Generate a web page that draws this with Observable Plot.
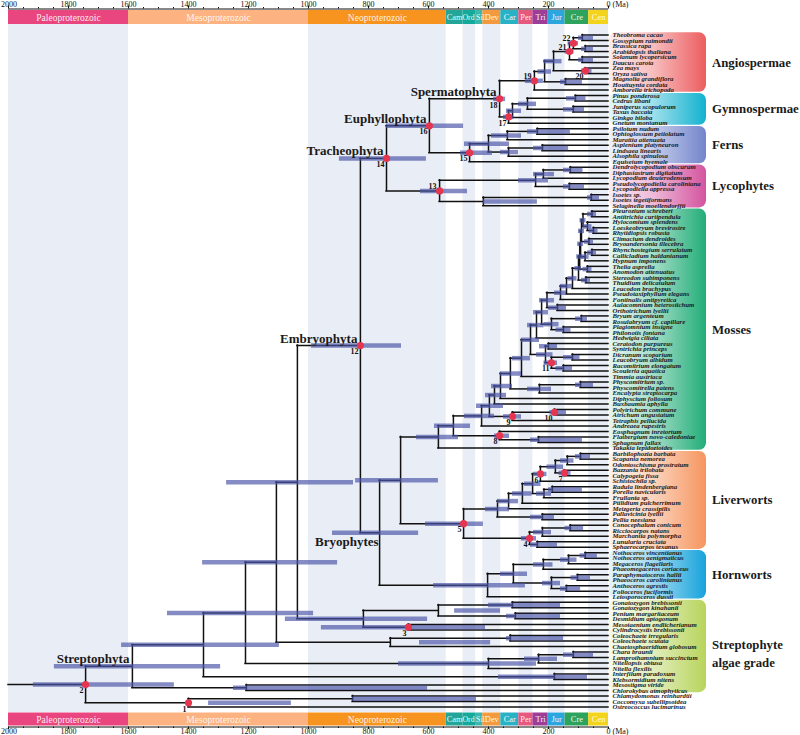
<!DOCTYPE html>
<html><head><meta charset="utf-8">
<script src="https://cdn.jsdelivr.net/npm/d3@7"></script>
<script src="https://cdn.jsdelivr.net/npm/@observablehq/plot@0.6"></script>
<style>
body{margin:0;background:#fff;width:800px;height:735px;overflow:hidden;font-family:"Liberation Serif",serif;}
#chart svg{display:block;}
</style></head><body><div id="chart"></div>
<script>
// ---------------- data ----------------
const tipNames = [
"Theobroma cacao","Gossypium raimondii","Brassica rapa","Arabidopsis thaliana","Solanum lycopersicum","Daucus carota","Zea mays","Oryza sativa","Magnolia grandiflora","Houttuynia cordata","Amborella trichopoda",
"Pinus ponderosa","Cedrus libani","Juniperus scopulorum","Taxus baccata","Ginkgo biloba","Gnetum montanum",
"Psilotum nudum","Ophioglossum petiolatum","Marattia attenuata","Asplenium platyneuron","Lindsaea linearis","Alsophila spinulosa","Equisetum hyemale",
"Dendrolycopodium obscurum","Diphasiastrum digitatum","Lycopodium deuterodensum","Pseudolycopodiella caroliniana","Lycopodiella appressa","Isoetes sp.","Isoetes tegetiformans","Selaginella moellendorffii",
"Pleurozium schreberi","Antitrichia curtipendula","Hylocomium splendens","Loeskeobryum brevirostre","Rhytidiopsis robusta","Climacium dendroides","Bryoandersonia illecebra","Rhynchostegium serrulatum","Callicladium haldanianum","Hypnum imponens","Thelia asprella","Anomodon attenuatus","Stereodon subimponens","Thuidium delicatulum","Leucodon brachypus","Pseudotaxiphyllum elegans","Fontinalis antipyretica","Aulacomnium heterostichum","Orthotrichum lyellii","Bryum argenteum","Rosulabryum cf. capillare","Plagiomnium insigne","Philonotis fontana","Hedwigia ciliata","Ceratodon purpureus","Syntrichia princeps","Dicranum scoparium","Leucobryum albidum","Racomitrium elongatum","Scouleria aquatica","Timmia austriaca","Physcomitrium sp.","Physcomitrella patens","Encalypta streptocarpa","Diphyscium foliosum","Buxbaumia aphylla","Polytrichum commune","Atrichum angustatum","Tetraphis pellucida","Andreaea rupestris","Eosphagnum inretortum","Flatbergium novo-caledoniae","Sphagnum fallax","Takakia lepidozioides",
"Barbilophozia barbata","Scapania nemorea","Odontoschisma prostratum","Bazzania trilobata","Calypogeia fissa","Schistochila sp.","Radula lindenbergiana","Porella navicularis","Frullania sp.","Ptilidium pulcherrimum","Metzgeria crassipilis","Pallavicinia lyellii","Pellia neesiana","Conocephalum conicum","Ricciocarpos natans","Marchantia polymorpha","Lunularia cruciata","Sphaerocarpos texanus",
"Nothoceros vincentianus","Nothoceros aenigmaticus","Megaceros flagellaris","Phaeomegaceros coriaceus","Paraphymatoceros hallii","Phaeoceros carolinianus","Anthoceros agrestis","Folioceros fuciformis","Leiosporoceros dussii",
"Gonatozygon brebissonii","Gonatozygon kinahanii","Penium margaritaceum","Desmidium aptogonum","Mesotaenium endlicherianum","Cylindrocystis brebissonii","Coleochaete irregularis","Coleochaete scutata","Chaetosphaeridium globosum","Chara braunii","Lamprothamnium succinctum","Nitellopsis obtusa","Nitella flexilis","Interfilum paradoxum","Klebsormidium nitens","Mesostigma viride","Chlorokybus atmophyticus",
"Chlamydomonas reinhardtii","Coccomyxa subellipsoidea","Ostreococcus lucimarinus"];

// geological periods (Ma)
const periodNames  = ["Paleoproterozoic","Mesoproterozoic","Neoproterozoic","Cam","Ord","Sil","Dev","Car","Per","Tri","Jur","Cre","Cen"];
const periodStart  = [2000,1600,1000,541,485,443,419,359,299,252,201,145,66];
const periodEnd    = [1600,1000,541,485,443,419,359,299,252,201,145,66,0];
const periodColors = ["#e9467f","#fcb381","#f7931f","#23a597","#14a99b","#3cb7ab","#f39a3e","#29b2c6","#e6587e","#9d3d97","#2ba6df","#2ea35d","#f4d31c"];
const periodShaded = [1,0,1,0,1,0,1,0,1,0,1,0,1];
const majorTicks = [2000,1800,1600,1400,1200,1000,800,600,400,200,0];

// right-hand groups (tip index ranges)
const groupNames  = ["Angiospermae","Gymnospermae","Ferns","Lycophytes","Mosses","Liverworts","Hornworts","Streptophyte|algae grade"];
const groupFirst  = [0,11,17,24,32,76,94,103];
const groupLast   = [10,16,23,31,75,93,102,119];
const groupColors = ["#ec5d5f","#12b2cf","#7385cc","#d4549f","#22ad78","#f6955e","#17a3dc","#b8d45c"];

// tree: (children)age/olderHPD/youngerHPD[#calibration][^ label above][$clade]
const angio = "((((((0,1)87/100/50,(2,3)77/90/50)117/135/100#22^,(4,5)87/100/50)130/145/115#21^,(6,7)77/90/55#20)183/215/155,(8,9)143/160/87)213/235/190,10)247/277/217#19^";
const gymno = "((((11,12)110/140/75,(13,14)117/150/80)270/300/240,15)320/340/290,16)333/350/315#17";
const ferns = "((((17,18)237/270/127,19)337/390/290,((20,21)220/250/133,22)333/360/300)400/480/330,23)463/493/387#15";
const lyco  = "((((24,25)127/150/85,26)217/250/180,(27,28)130/150/80)243/300/200,((29,30)57/70/30,31)417/417/237)563/627/470#13^";
const pleuro = "((32,33)55/70/40,(34,(35,36)50/65/35)70/85/55)85/95/75";
const hypnales = `(((((((${pleuro},(37,38)65/80/50)90/100/80,((39,40)55/70/40,41)78/90/65)93/103/83,(42,43)70/85/55)96/106/86,(44,45)75/90/60)100/112/90,46)120/135/105,47)140/160/120,48)160/180/140`;
const bryidae = `(((${hypnales},(49,50)170/200/140)205/230/180,((51,52)90/110/70,(53,54)150/175/125)190/215/165)223/250/200,55)240/270/215`;
const dicranidae = "((56,57)200/230/170,((58,59)120/150/95,(60,61)150/175/120)190/215/170#11)210/240/185";
const bryopsida = `(((${bryidae},${dicranidae})260/290/230,62)290/320/260,((63,64)93/110/50,65)230/270/190)327/360/290`;
const mosses = `((((((${bryopsida},66)360/390/320,67)380/410/340,((68,69)180/195/140#10,70)320/350/290#9)397/440/350,71)423/480/380,(72,(73,74)233/260/87)363/380/330#8)517/580/460,75)567/640/500`;
const jungermann = "((((((((76,77)93/110/60,78)137/160/115,(79,80)147/165/125#7)177/205/150,81)227/250/205#6,((82,83)187/200/87,84)215/240/190)253/280/225,85)287/320/255,86)333/370/300,(87,88)220/260/180)370/410/330";
const marchant = "(((89,90)127/145/83,91)220/250/190,(92,93)237/260/170)263/290/240#4";
const hornworts = "(((((94,95)77/95/37,96)133/160/105,97)217/250/185,((98,99)103/125/60,(100,101)140/160/93)190/220/160)317/360/270,102)403/583/277";
const zygnema = "(((103,104)320/400/160,(105,106)310/340/160)567/513/360,(107,108)667/957/410#3)817/1077/603";
const coleo = "((109,110)327/340/150,111)727/630/393";
const charo = "(((112,113)117/150/50,114)233/280/170,115)400/700/240";
const chloro = "((120,121)853/853/440,122)1400/1333/1057#1";

const sperm = `(${angio},${gymno})363/383/343#18$Spermatophyta`;
const euphyll = `(${sperm},${ferns})597/740/483#16$Euphyllophyta`;
const trach = `(${euphyll},${lyco})740/897/607#14$Tracheophyta`;
const liver = `(${jungermann},${marchant})483/610/417#5`;
const bryophytes = `((${mosses},${liver})693/843/567,${hornworts})763/920/633$Bryophytes`;
const embryo = `(${trach},${bryophytes})827/990/690#12$Embryophyta`;
const strepto = `(((((${embryo},${zygnema})1037/1273/850,${coleo})1107/1353/903,${charo})1210/1470/983,(116,117)180/367/70)1350/1623/1097,(118,119)1207/1250/603)1587/1847/1293$Streptophyta`;
const treeString = `(${strepto},${chloro})1743/1917/1447#2`;
const rootStart = 2000;

// ---------------- parse & layout ----------------
function parseTree(s){
  let i = 0;
  function node(){
    if (s[i] === "("){
      i++;
      const children = [node()];
      while (s[i] === ","){ i++; children.push(node()); }
      i++;
      const m = /^(\d+)\/(\d+)\/(\d+)(?:#(\d+)(\^?))?(?:\$(\w+))?/.exec(s.slice(i));
      i += m[0].length;
      return {children, age:+m[1], hi:+m[2], lo:+m[3], cal: m[4] || null, above: m[5] === "^", clade: m[6] || null};
    }
    const m = /^\d+/.exec(s.slice(i)); i += m[0].length;
    return {tip:+m[0], age:0};
  }
  return node();
}
const root = parseTree(treeString);
const nodes = [];
(function walk(n, parent){
  n.parent = parent;
  if (n.children){
    n.children.forEach(c => walk(c, n));
    n.y = (n.children[0].y + n.children[n.children.length-1].y)/2;
  } else { n.y = n.tip; n.name = tipNames[n.tip]; }
  nodes.push(n);
})(root, null);
const internal = nodes.filter(n => n.children);
const tips = nodes.filter(n => !n.children);
const horizontals = nodes.map(n => ({x1: n.parent ? n.parent.age : rootStart, x2: n.age, y: n.y}));
const verticals = internal.map(n => ({x: n.age, y1: n.children[0].y, y2: n.children[n.children.length-1].y}));
const cal = internal.filter(n => n.cal);
const clades = internal.filter(n => n.clade);

const periods = periodNames.map((name,i)=>({name, start:periodStart[i], end:periodEnd[i], color:periodColors[i], shaded:periodShaded[i]}));
const minorTicks = d3.range(0, 2001, 50).filter(d => !majorTicks.includes(d));
const FONT = "Liberation Serif";
const W = 800, ML = 8, MR = 192;

// ---------------- top / bottom strips ----------------
function strip(top){
  const H = top ? 24 : 23;
  const barY1 = top ? 10 : 0.5, barY2 = top ? 24 : 13.5, axisY = top ? 8.5 : 14.5;
  const labY = top ? 6.5 : 21.5;
  const tickEnd = top ? 5.5 : 17, minorEnd = top ? 7 : 16;
  const cy = (barY1 + barY2) / 2;
  return Plot.plot({
    width: W, height: H, marginLeft: ML, marginRight: MR, marginTop: 0, marginBottom: 0,
    x: {domain:[2000,0], axis:null}, y: {domain:[0, H], range:[0, H], axis:null},
    style: {fontFamily: FONT, background: "white", overflow: "visible"},
    marks: [
      Plot.rect(periods, {x1:"start", x2:"end", y1: barY1, y2: barY2, fill:"color"}),
      Plot.text(periods.filter(d=>d.name.length>3), {x: d=>(d.start+d.end)/2, y: cy, text:"name", fill:"white", fontSize:9.5, fillOpacity:0.9}),
      Plot.text(periods.filter(d=>d.name.length<=3 && d.name!=="Sil" && d.name!=="Ord"), {x: d=>(d.start+d.end)/2, y: cy, text:"name", fill:"white", fontSize:8.4, fillOpacity:0.95}),
      Plot.text(periods.filter(d=>d.name==="Ord"), {x: d=>(d.start+d.end)/2, y: cy, text:"name", fill:"white", fontSize:7.8, dx:-0.8, fillOpacity:0.95}),
      Plot.text(periods.filter(d=>d.name==="Sil"), {x: d=>(d.start+d.end)/2, y: cy, text:"name", fill:"white", fontSize:7.8, dx:1.2, fillOpacity:0.95}),
      Plot.ruleY([axisY], {stroke:"#111", strokeWidth:1}),
      Plot.ruleX(majorTicks, {x: d=>d, y1: axisY, y2: tickEnd, stroke:"#111"}),
      Plot.ruleX(minorTicks, {x: d=>d, y1: axisY, y2: minorEnd, stroke:"#111"}),
      Plot.text(majorTicks.filter(d=>d>0 && d<2000), {x: d=>d, y: labY, text: d=>String(d), lineAnchor:"bottom", fontSize:8, fill:"#111"}),
      Plot.text([2000], {x: d=>d, y: labY, text: d=>String(d), lineAnchor:"bottom", textAnchor:"start", dx:-7.5, fontSize:8, fill:"#111"}),
      Plot.text([0], {x: d=>d, y: labY, text: ()=>"0 (Ma)", lineAnchor:"bottom", textAnchor:"start", dx:-2, fontSize:8, fill:"#111"})
    ]
  });
}

// ---------------- main tree ----------------
const MAIN_H = 688, padTop = 10.5, padBottom = 5.5;
const step = (MAIN_H - padTop - padBottom) / 122;
const main = Plot.plot({
  width: W, height: MAIN_H, marginLeft: ML, marginRight: MR, marginTop: 0, marginBottom: 0,
  x: {domain:[2000,0], axis:null},
  y: {domain:[-padTop/step, 122 + padBottom/step], range:[0, MAIN_H], axis:null},
  style: {fontFamily: FONT, background: "white", overflow: "visible"},
  marks: [
    Plot.rect(periods.filter(d=>d.shaded), {x1:"start", x2:"end", fill:"#e9edf5"}),
    Plot.ruleY(horizontals, {y:"y", x1:"x1", x2:"x2", stroke:"#111", strokeWidth:1.5, strokeLinecap:"square"}),
    Plot.ruleX(verticals, {x:"x", y1:"y1", y2:"y2", stroke:"#111", strokeWidth:1.5, strokeLinecap:"square"}),
    Plot.ruleY(internal, {y:"y", x1:"hi", x2:"lo", stroke:"#4b55a8", strokeOpacity:0.68, strokeWidth:4.5}),
    Plot.dot(cal, {x:"age", y:"y", r:3.6, fill:"#e6354f"}),
    Plot.text(cal.filter(d=>!d.above), {x:"age", y:"y", text:"cal", textAnchor:"end", lineAnchor:"top", dx:-2, dy:3, fontSize:8, fontWeight:"bold", fill:"#111"}),
    Plot.text(cal.filter(d=>d.above), {x:"age", y:"y", text:"cal", textAnchor:"end", lineAnchor:"bottom", dx:-3, dy:-2, fontSize:8, fontWeight:"bold", fill:"#111"}),
    Plot.text(clades.filter(d=>d.clade!=="Bryophytes"), {x:"age", y:"y", text:"clade", textAnchor:"end", lineAnchor:"bottom", dx:-3, dy:-3, fontSize:13, fontWeight:"bold", fill:"#1a1a1a"}),
    Plot.text(clades.filter(d=>d.clade==="Bryophytes"), {x:"age", y:"y", text:"clade", textAnchor:"end", lineAnchor:"top", dx:-1, dy:4, fontSize:13, fontWeight:"bold", fill:"#1a1a1a"}),
    Plot.text(tips, {x:"age", y:"y", text:"name", textAnchor:"start", dx:4, fontSize:6.8, fontStyle:"italic", fontWeight:"bold", fill:"#1a1a1a"})
  ]
});

// right-hand coloured group boxes
const ySc = main.scale("y");
const svg = d3.select(main);
const defs = svg.insert("defs", ":first-child");
const boxG = svg.insert("g", "g");
const half = step/2 - 0.6;
groupNames.forEach((name, i) => {
  const grad = defs.append("linearGradient").attr("id", "grp" + i).attr("x1", 0).attr("x2", 1).attr("y1", 0).attr("y2", 0);
  grad.append("stop").attr("offset", "0").attr("stop-color", groupColors[i]).attr("stop-opacity", 0.12);
  grad.append("stop").attr("offset", "0.45").attr("stop-color", groupColors[i]).attr("stop-opacity", 0.4);
  grad.append("stop").attr("offset", "1").attr("stop-color", groupColors[i]).attr("stop-opacity", 1);
  const y1 = ySc.apply(groupFirst[i]) - half, y2 = ySc.apply(groupLast[i]) + half;
  boxG.append("rect").attr("x", 609).attr("y", y1).attr("width", 97).attr("height", y2 - y1)
      .attr("rx", 7).attr("fill", `url(#grp${i})`);
  const lines = name.split("|");
  const cy = (y1 + y2) / 2;
  lines.forEach((ln, k) => {
    svg.append("text").attr("x", 712).attr("y", cy + (lines.length > 1 ? (k - 0.1) * 18 : 0))
      .attr("dy", "0.35em").attr("text-anchor", "start").attr("font-size", 12.8).attr("font-weight", "bold")
      .attr("font-family", FONT).attr("fill", "#1a1a1a").text(ln);
  });
});

const chart = document.getElementById("chart");
chart.appendChild(strip(true));
chart.appendChild(main);
chart.appendChild(strip(false));
</script>
</body></html>
